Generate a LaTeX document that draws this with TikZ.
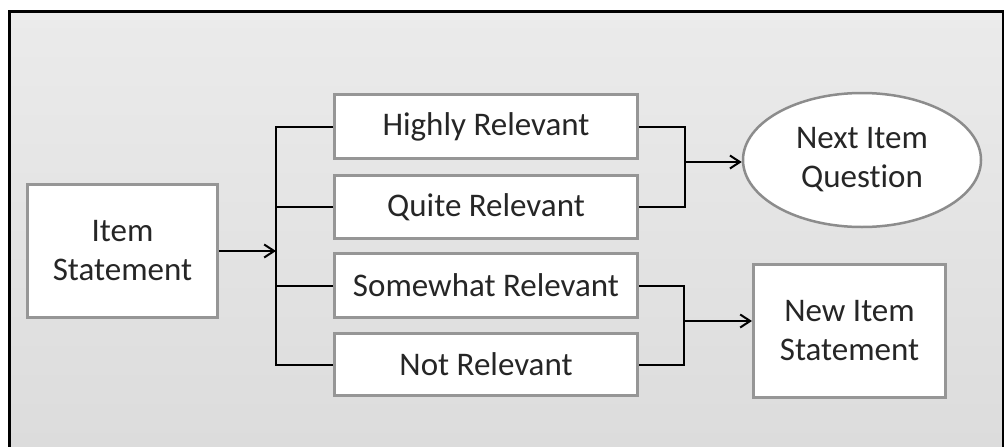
\documentclass[tikz,border=0pt]{standalone}
\usepackage{fontspec}
\setmainfont{Carlito}[Ligatures=NoCommon]
\usetikzlibrary{arrows.meta,shapes.geometric}
\definecolor{boxgray}{HTML}{969696}
\definecolor{ellgray}{HTML}{8C8C8C}
\definecolor{bgtop}{HTML}{EBEBEB}
\definecolor{bgbot}{HTML}{DCDCDC}
\definecolor{txt}{HTML}{262626}
\begin{document}
\begin{tikzpicture}[x=1pt,y=-1pt,
  box/.style={draw=boxgray, line width=3pt, fill=white, inner sep=0pt,
    font=\fontsize{33}{39}\selectfont, text=txt, align=center},
  ell/.style={ellipse, draw=ellgray, line width=2.5pt, fill=white, inner sep=0pt,
    font=\fontsize{33}{39}\selectfont, text=txt, align=center},
  conn/.style={line width=2pt, black},
  arr/.style={conn, -{Straight Barb[length=10pt,width=13pt,line width=2pt]}}]
\useasboundingbox (0,0) rectangle (1004,447);
\fill[white] (0,0) rectangle (1004,447);
\shade[top color=bgtop, bottom color=bgbot] (11,13) rectangle (1004,447);
\draw[line width=3pt] (9.5,447) -- (9.5,11.5) -- (1004,11.5);
\draw[line width=1.5pt] (1003.2,11.5) -- (1003.2,447);

\node[box, minimum width=190pt, minimum height=133pt] (is) at (122.5,251) {Item\\Statement};
\node[box, minimum width=303pt, minimum height=64pt] (hr) at (486,126.5) {Highly Relevant};
\node[box, minimum width=303pt, minimum height=63pt] (qr) at (486,207) {Quite Relevant};
\node[box, minimum width=303pt, minimum height=64pt] (sr) at (486,285.5) {Somewhat Relevant};
\node[box, minimum width=303pt, minimum height=62pt] (nr) at (486,364.5) {Not Relevant};
\node[ell, minimum width=238pt, minimum height=134pt] (niq) at (862,160) {Next Item\\Question};
\node[box, minimum width=192pt, minimum height=133pt] (nis) at (849.5,331) {New Item\\Statement};

\coordinate (trunk) at (276,252);
\coordinate (rj) at (685,162);
\coordinate (rj2) at (684,321);

\draw[conn] (hr.west) -- (hr.west -| trunk) -- (nr.west -| trunk) -- (nr.west);
\draw[conn] (qr.west) -- (qr.west -| trunk);
\draw[conn] (sr.west) -- (sr.west -| trunk);
\draw[arr] (is.east) -- (is.east -| trunk);

\draw[conn] (hr.east) -- (hr.east -| rj) -- (qr.east -| rj) -- (qr.east);
\draw[arr] (rj) -- (rj -| niq.west);

\draw[conn] (sr.east) -- (sr.east -| rj2) -- (nr.east -| rj2) -- (nr.east);
\draw[arr] (rj2) -- (rj2 -| nis.west);
\end{tikzpicture}
\end{document}
